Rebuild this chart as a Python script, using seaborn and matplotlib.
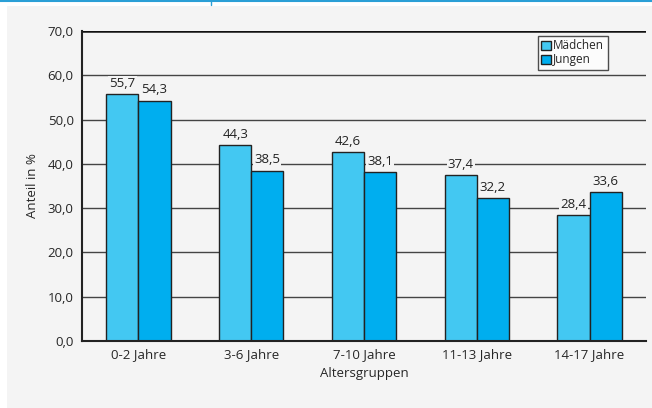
import pandas as pd
import numpy as np
import matplotlib.pyplot as plt
import matplotlib.patches as mpatches
import matplotlib.lines as mlines
import seaborn as sns

# Werte aus der Grafik
altersgruppen = ['0-2 Jahre', '3-6 Jahre', '7-10 Jahre', '11-13 Jahre', '14-17 Jahre']
maedchen = [55.7, 44.3, 42.6, 37.4, 28.4]
jungen = [54.3, 38.5, 38.1, 32.2, 33.6]

df = pd.DataFrame({
    'Altersgruppe': altersgruppen * 2,
    'Geschlecht': ['Mädchen'] * 5 + ['Jungen'] * 5,
    'Anteil': maedchen + jungen,
})

sns.set_style('white')
plt.rcParams['font.family'] = ['Open Sans', 'DejaVu Sans']

bg = '#f4f4f4'
colors = {'Mädchen': '#43c8f2', 'Jungen': '#00aeef'}

fig = plt.figure(figsize=(6.52, 4.08), dpi=100)
fig.patch.set_facecolor('white')
# grauer Hintergrund-Kasten
fig.add_artist(mpatches.Rectangle((7 / 652, 0), 1, 1 - 6 / 408, transform=fig.transFigure,
                                  facecolor=bg, edgecolor='none', zorder=0))
# blaue Linie oben
fig.add_artist(mlines.Line2D([0, 1], [1 - 1 / 408, 1 - 1 / 408], transform=fig.transFigure,
                             color='#2a9fd6', lw=1.5))
fig.add_artist(mlines.Line2D([211 / 652, 211 / 652], [1 - 1 / 408, 1 - 5 / 408], transform=fig.transFigure,
                             color='#2a9fd6', lw=1))

ax = fig.add_axes([82 / 652, 1 - 341 / 408, 564 / 652, 310 / 408])
ax.set_facecolor(bg)

sns.barplot(data=df, x='Altersgruppe', y='Anteil', hue='Geschlecht', palette=colors, saturation=1,
            width=0.57, gap=0, edgecolor='#222222', linewidth=1, ax=ax, zorder=3)

for cont in ax.containers:
    txts = ax.bar_label(cont, labels=[f'{v:.1f}'.replace('.', ',') for v in cont.datavalues],
                        padding=3, fontsize=9.5, color='#222222', zorder=2)
    for t in txts:
        t.set_bbox(dict(facecolor=bg, edgecolor='none', pad=0.8))

ax.set_ylim(0, 70)
ax.set_xlim(-0.5, 4.5)
ax.set_yticks(np.arange(0, 71, 10))
ax.set_yticklabels([f'{v:.1f}'.replace('.', ',') for v in np.arange(0, 71, 10)], fontsize=9.5)
for y in range(10, 70, 10):
    ax.axhline(y, color='#444444', lw=1, zorder=1)
ax.axhline(70, color='#111111', lw=1.8, zorder=1)

ax.set_xticks(np.arange(5))
ax.set_xticklabels(altersgruppen, fontsize=9.5)
ax.set_xticks(np.arange(-0.5, 5, 1), minor=True)
ax.tick_params(axis='x', which='major', length=0, pad=5)
ax.tick_params(axis='x', which='minor', length=4, width=1, color='#222222', direction='out')
ax.tick_params(axis='y', length=4, width=1, color='#222222', direction='out', pad=2)

for s in ['top', 'right']:
    ax.spines[s].set_visible(False)
for s in ['left', 'bottom']:
    ax.spines[s].set_color('#222222')
    ax.spines[s].set_linewidth(1.5)
    ax.spines[s].set_zorder(4)

ax.set_xlabel('Altersgruppen', fontsize=9.5, labelpad=4)
ax.set_ylabel('Anteil in %', fontsize=9.5, labelpad=6)

leg = ax.legend(loc='upper right', bbox_to_anchor=(0.932, 0.985), fontsize=8.5, frameon=True,
                fancybox=False, handlelength=0.8, handleheight=0.8, handletextpad=0.2,
                borderpad=0.3, labelspacing=0.1, borderaxespad=0)
leg.get_frame().set_edgecolor('#222222')
leg.get_frame().set_facecolor('white')
leg.get_frame().set_linewidth(1)

fig.savefig('out.png', dpi=100, facecolor=fig.get_facecolor())
